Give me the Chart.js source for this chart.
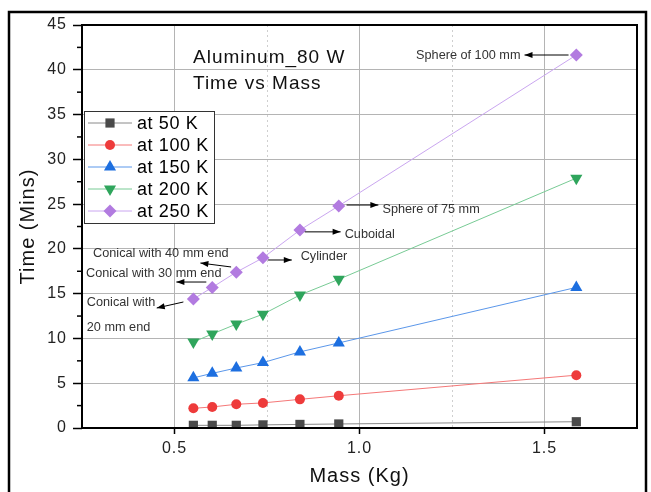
<!DOCTYPE html>
<html>
<head>
<meta charset="utf-8">
<script src="https://cdn.jsdelivr.net/npm/chart.js@4.4.1/dist/chart.umd.min.js"></script>
<style>
  html, body { margin: 0; padding: 0; background: #fff; }
  canvas { display: block; }
</style>
</head>
<body>
<canvas id="myChart" width="651" height="492"></canvas>
<script>
// mass of each shape (Kg)
let mass = [0.551, 0.602, 0.667, 0.739, 0.839, 0.944, 1.586]
// time (mins) per temperature
let t50 = [0.3, 0.3, 0.3, 0.35, 0.4, 0.45, 0.7]
let t100 = [2.2, 2.35, 2.65, 2.8, 3.2, 3.6, 5.9]
let t150 = [5.6, 6.1, 6.7, 7.3, 8.5, 9.5, 15.7]
let t200 = [9.6, 10.5, 11.6, 12.7, 14.85, 16.6, 27.9]
let t250 = [14.4, 15.7, 17.4, 19.0, 22.1, 24.8, 41.65]
let seriesNames = ['at 50 K', 'at 100 K', 'at 150 K', 'at 200 K', 'at 250 K']
let xTickLabels = [0.5, 1.0, 1.5]

// shape notes, text and arrow in data units
let notes = [
  { text: 'Sphere of 100 mm', x: 1.435, y: 41.65, align: 'right', from: [1.565, 41.65], to: [1.446, 41.65] },
  { text: 'Sphere of 75 mm', x: 1.062, y: 24.45, align: 'left', from: [0.965, 24.9], to: [1.051, 24.9] },
  { text: 'Cuboidal', x: 0.960, y: 21.66, align: 'left', from: [0.852, 21.9], to: [0.949, 21.9] },
  { text: 'Cylinder', x: 0.841, y: 19.1, align: 'left', from: [0.753, 18.76], to: [0.817, 18.76] },
  { text: 'Conical with 40 mm end', x: 0.280, y: 19.54, align: 'left', from: [0.653, 17.98], to: [0.570, 18.42] },
  { text: 'Conical with 30 mm end', x: 0.261, y: 17.3, align: 'left', from: [0.586, 16.3], to: [0.505, 16.3] },
  { text: 'Conical with', x: 0.263, y: 13.96, align: 'left', from: [0.524, 14.07], to: [0.452, 13.4] },
  { text: '20 mm end', x: 0.263, y: 11.17, align: 'left' }
]

let markerColors = ['#4a4a4a', '#ee3b3b', '#1d6fe0', '#2fa55c', '#b27be0']
let lineColors = ['#8a8a8a', '#f57878', '#5b97ea', '#78cb95', '#caa6f0']
let shapes = ['rect', 'circle', 'triangle', 'triangle', 'rectRot']
let radii = [6.5, 5, 7, 7, 6.5]
let rots = [0, 0, 0, 180, 0]

let allSeries = [t50, t100, t150, t200, t250]
let datasets = allSeries.map((vals, i) => ({
  label: seriesNames[i],
  data: vals.map((v, j) => ({ x: mass[j], y: v })),
  borderColor: lineColors[i],
  backgroundColor: markerColors[i],
  borderWidth: 1,
  pointStyle: shapes[i],
  pointRadius: radii[i],
  pointRotation: rots[i],
  pointBorderWidth: 0,
  pointBackgroundColor: markerColors[i],
  pointBorderColor: markerColors[i],
  tension: 0
}))

function arrow(ctx, x1, y1, x2, y2) {
  let ang = Math.atan2(y2 - y1, x2 - x1)
  ctx.beginPath()
  ctx.moveTo(x1, y1)
  ctx.lineTo(x2, y2)
  ctx.stroke()
  ctx.beginPath()
  ctx.moveTo(x2, y2)
  ctx.lineTo(x2 - 8 * Math.cos(ang) + 3 * Math.sin(ang), y2 - 8 * Math.sin(ang) - 3 * Math.cos(ang))
  ctx.lineTo(x2 - 8 * Math.cos(ang) - 3 * Math.sin(ang), y2 - 8 * Math.sin(ang) + 3 * Math.cos(ang))
  ctx.closePath()
  ctx.fill()
}

const extras = {
  id: 'extras',
  beforeDraw(chart) {
    let ctx = chart.ctx
    ctx.fillStyle = '#fff'
    ctx.fillRect(0, 0, chart.width, chart.height)
    // the original lettering runs a bit wide
    ctx.letterSpacing = '1px'
  },
  afterDraw(chart) {
    let ctx = chart.ctx
    let a = chart.chartArea
    let xs = chart.scales.x
    let ys = chart.scales.y
    ctx.save()

    // plot frame
    ctx.strokeStyle = '#000'
    ctx.lineWidth = 2
    ctx.strokeRect(a.left, a.top, a.right - a.left, a.bottom - a.top)

    // minor y ticks
    ctx.lineWidth = 1.5
    for (let v = 2.5; v < 45; v += 5) {
      let py = ys.getPixelForValue(v)
      ctx.beginPath()
      ctx.moveTo(a.left - 5, py)
      ctx.lineTo(a.left, py)
      ctx.stroke()
    }

    // outer figure border
    ctx.lineWidth = 2.5
    ctx.strokeRect(9, 12, 637, 500)

    // title text
    ctx.fillStyle = '#111'
    ctx.letterSpacing = '1px'
    ctx.font = '19px "Liberation Sans", Arial, sans-serif'
    ctx.textAlign = 'left'
    ctx.textBaseline = 'alphabetic'
    ctx.fillText('Aluminum_80 W', a.left + 111, a.top + 38)
    ctx.fillText('Time vs Mass', a.left + 111, a.top + 64)

    // notes
    ctx.letterSpacing = '0px'
    ctx.font = '12.7px "Liberation Sans", Arial, sans-serif'
    ctx.textBaseline = 'middle'
    ctx.lineWidth = 1
    for (const n of notes) {
      ctx.fillStyle = '#333'
      ctx.textAlign = n.align
      ctx.fillText(n.text, xs.getPixelForValue(n.x), ys.getPixelForValue(n.y))
      if (n.from) {
        ctx.fillStyle = '#000'
        ctx.strokeStyle = '#000'
        arrow(ctx, xs.getPixelForValue(n.from[0]), ys.getPixelForValue(n.from[1]),
          xs.getPixelForValue(n.to[0]), ys.getPixelForValue(n.to[1]))
      }
    }

    // legend box
    let lx = a.left + 2, ly = a.top + 86
    ctx.fillStyle = '#fff'
    ctx.fillRect(lx, ly, 130, 112)
    ctx.strokeStyle = '#333'
    ctx.lineWidth = 1
    ctx.strokeRect(lx + 0.5, ly + 0.5, 130, 112)
    ctx.letterSpacing = '0.6px'
    ctx.font = '18px "Liberation Sans", Arial, sans-serif'
    ctx.textAlign = 'left'
    ctx.textBaseline = 'middle'
    chart.data.datasets.forEach((ds, i) => {
      let ry = ly + 12 + i * 22
      ctx.strokeStyle = ds.borderColor
      ctx.lineWidth = 1
      ctx.beginPath()
      ctx.moveTo(lx + 4, ry)
      ctx.lineTo(lx + 48, ry)
      ctx.stroke()
      ctx.fillStyle = ds.pointBackgroundColor
      ctx.strokeStyle = ds.pointBackgroundColor
      Chart.helpers.drawPoint(ctx, {
        pointStyle: ds.pointStyle, radius: ds.pointRadius, rotation: ds.pointRotation, borderWidth: 0
      }, lx + 26, ry)
      ctx.fillStyle = '#000'
      ctx.fillText(ds.label, lx + 53, ry + 1)
    })
    ctx.restore()
  }
}

let myChart = document.getElementById('myChart')
const massChart = new Chart(myChart, {
  type: 'line',
  data: { datasets: datasets },
  plugins: [extras],
  options: {
    responsive: false,
    animation: false,
    layout: { padding: { top: 25, right: 14, left: 0, bottom: 0 } },
    plugins: { legend: { display: false }, tooltip: { enabled: false } },
    scales: {
      x: {
        type: 'linear',
        min: 0.25,
        max: 1.75,
        afterFit: (s) => { s.height = 64 },
        ticks: {
          stepSize: 0.25,
          autoSkip: false,
          maxRotation: 0,
          padding: 5,
          color: '#222',
          font: { size: 16, family: '"Liberation Sans", Arial, sans-serif' },
          callback: (v) => xTickLabels.some(t => Math.abs(t - v) < 1e-6) ? v.toFixed(1) : ''
        },
        grid: {
          color: (c) => {
            let v = c.tick ? c.tick.value : 0
            if (xTickLabels.some(t => Math.abs(t - v) < 1e-6)) return '#b4b4b4'
            if (Math.abs(v - 0.75) < 1e-6 || Math.abs(v - 1.25) < 1e-6) return '#cfcfcf'
            return 'rgba(0,0,0,0)'
          },
          tickColor: (c) => {
            let v = c.tick ? c.tick.value : 0
            return xTickLabels.some(t => Math.abs(t - v) < 1e-6) ? '#000' : 'rgba(0,0,0,0)'
          },
          tickLength: 6,
          tickWidth: 1.5
        },
        border: {
          display: false,
          dash: (c) => {
            let v = c.tick ? c.tick.value : 0
            return (Math.abs(v - 0.75) < 1e-6 || Math.abs(v - 1.25) < 1e-6) ? [2, 3] : []
          }
        },
        title: {
          display: true,
          text: 'Mass (Kg)',
          color: '#111',
          font: { size: 20, family: '"Liberation Sans", Arial, sans-serif' },
          padding: { top: 0, bottom: 4 }
        }
      },
      y: {
        min: 0,
        max: 45,
        afterFit: (s) => { s.width = 82 },
        ticks: {
          stepSize: 5,
          padding: 6,
          color: '#222',
          font: { size: 16, family: '"Liberation Sans", Arial, sans-serif' }
        },
        grid: {
          color: '#b4b4b4',
          tickColor: '#000',
          tickLength: 9,
          tickWidth: 1.5
        },
        border: { display: false },
        title: {
          display: true,
          text: 'Time (Mins)',
          color: '#111',
          font: { size: 20, family: '"Liberation Sans", Arial, sans-serif' },
          padding: { top: 16, bottom: 0 }
        }
      }
    }
  }
})
</script>
</body>
</html>
